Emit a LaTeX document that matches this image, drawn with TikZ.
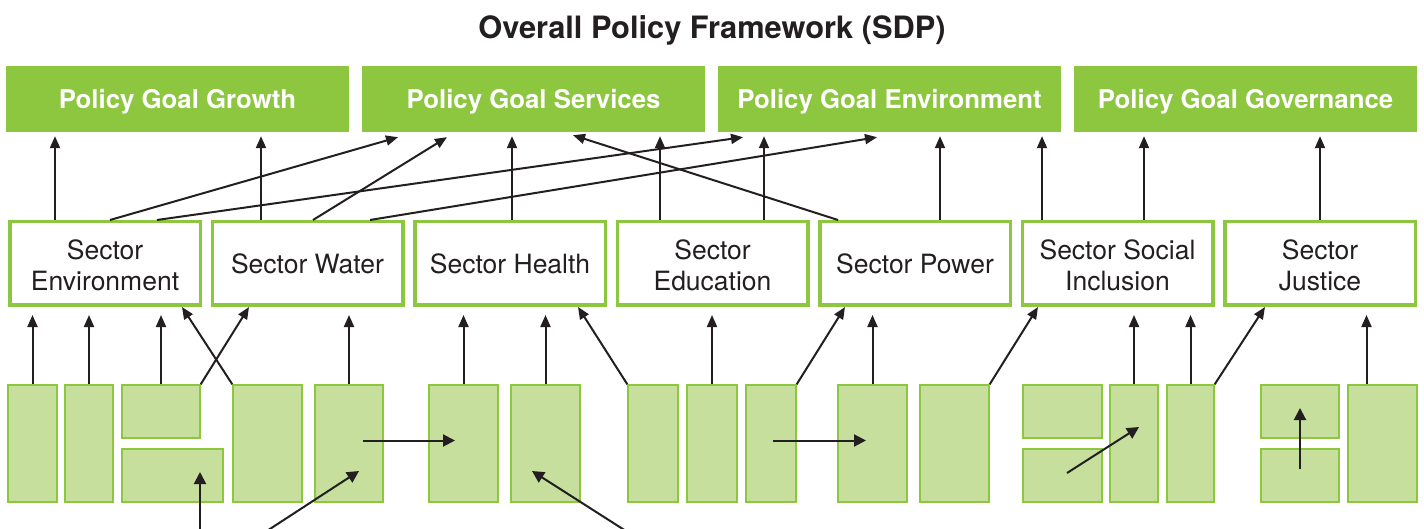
\documentclass[tikz,border=0pt]{standalone}
\usepackage{fontspec}
\setmainfont{TeX Gyre Heros}
\usepackage{tikz}
\usetikzlibrary{arrows.meta,calc,fit}

\definecolor{leaf}{HTML}{8DC63F}
\definecolor{pale}{HTML}{C6DF9D}
\definecolor{ink}{HTML}{231F20}

\tikzset{
  goal/.style={fill=leaf, minimum width=343pt, minimum height=66pt, inner sep=0pt,
    text depth=0pt, text=white, font=\bfseries\fontsize{25.8}{30}\selectfont},
  sector/.style={draw=leaf, line width=3.5pt, fill=white, minimum width=190.5pt,
    minimum height=83.5pt, inner sep=0pt, align=center, text=ink,
    font=\fontsize{26.5}{31}\selectfont},
  twoline/.style={sector, text height=54pt, text depth=0pt},
  tile/.style={draw=leaf, line width=1.4pt, fill=pale, inner sep=0pt},
  link/.style={draw=ink, line width=2pt, -{Triangle[length=12pt,width=10pt]}},
  flow/.style={link, -{Triangle[length=12pt,width=12pt]}}
}

\begin{document}
\begin{tikzpicture}[x=1pt, y=-1pt]
  \clip (0,0) rectangle (1424,529);

  \node[text=ink, text depth=0pt, font=\bfseries\fontsize{30.8}{36}\selectfont] (title) at (712,27) {Overall Policy Framework (SDP)};

  \node[goal] (gGrowth) at (177.5,99) {Policy Goal Growth};
  \node[goal] (gServ) at (533.5,99) {Policy Goal Services};
  \node[goal] (gEnv) at (889.5,99) {Policy Goal Environment};
  \node[goal] (gGov) at (1245.5,99) {Policy Goal Governance};

  \node[twoline] (sEnv) at (105,263.5) {Sector\\Environment};
  \node[sector] (sWater) at (307.5,263.5) {Sector Water};
  \node[sector] (sHealth) at (510,263.5) {Sector Health};
  \node[twoline] (sEdu) at (712.5,263.5) {Sector\\Education};
  \node[sector] (sPower) at (915,263.5) {Sector Power};
  \node[twoline] (sSoc) at (1117.5,263.5) {Sector Social\\Inclusion};
  \node[twoline] (sJus) at (1320,263.5) {Sector\\Justice};

  % programme tiles
  \foreach \n/\a/\b/\t/\u in {b1/8/57/385/502, b2/65/113/385/502, b3a/122/200/385/438,
      b3b/122/223/449/502, b4/233/302/385/502, b5/315/383/385/502, b6/429/498/385/502,
      b7/511/580/385/502, b8/628/678/385/502, b9/687/737/385/502, b10/746/796/385/502,
      b11/838/907/385/502, b12/920/989/385/502, b13a/1023/1102/385/438,
      b13b/1023/1102/449/502, b14/1110/1158/385/502, b15/1167/1214/385/502,
      b16a/1261/1339/385/438, b16b/1261/1339/449/502, b17/1348/1417/385/502}
    \node[tile, fit={(\a,\t) (\b,\u)}] (\n) {};

  % tiles to sectors
  \foreach \s/\g in {b1/sEnv, b2/sEnv, b3a/sEnv, b5/sWater, b6/sHealth, b7/sHealth,
      b9/sEdu, b11/sPower, b14/sSoc, b15/sSoc}
    \draw[link, shorten >=8pt] (\s.north) -- (\s.north |- \g.south);
  \draw[link, shorten >=8pt] ([xshift=-16]b17.north) -- ([xshift=-16]b17.north |- sJus.south);
  \draw[link] (b4.north west) -- ([xshift=77]sEnv.south);
  \draw[link] (b3a.north east) -- ([xshift=-58.5]sWater.south);
  \draw[link] (b8.north west) -- ([xshift=68]sHealth.south);
  \draw[link] (b10.north east) -- ([xshift=-70]sPower.south);
  \draw[link] (b12.north east) -- ([xshift=-79.5]sSoc.south);
  \draw[link] (b15.north east) -- ([xshift=-55]sJus.south);

  % sectors to goals
  \foreach \s/\d/\g in {sEnv/-50/gGrowth, sWater/-46.5/gGrowth, sHealth/2/gServ,
      sEdu/-52.5/gServ, sEdu/51.5/gEnv, sPower/25/gEnv, sSoc/-75.5/gEnv,
      sSoc/26.5/gGov, sJus/0/gGov}
    \draw[link, shorten >=4pt] ([xshift=\d]\s.north) -- ([xshift=\d]\s.north |- \g.south);
  \draw[link] ([xshift=5]sEnv.north) -- ($(gServ.south)+(-135.5,5)$);
  \draw[link] ([xshift=52]sEnv.north) -- ($(gEnv.south)+(-146.5,5)$);
  \draw[link] ([xshift=5.5]sWater.north) -- ($(gServ.south)+(-86.5,5)$);
  \draw[link] ([xshift=62.5]sWater.north) -- ($(gEnv.south)+(-12.5,5)$);
  \draw[link] ([xshift=-77]sPower.north) -- ($(gServ.south)+(39.5,3)$);

  % links between tiles
  \coordinate (src1) at (200,540);
  \coordinate (src2) at (253,540);
  \coordinate (src3) at (640,540);
  \draw[flow] ([xshift=14,yshift=3]b5.center) -- ([xshift=-8.5,yshift=3]b6.center);
  \draw[flow] (src1) -- ([xshift=27.5,yshift=3.5]b3b.center);
  \draw[flow] (src2) -- ([xshift=10,yshift=-27.5]b5.center);
  \draw[flow] (src3) -- ([xshift=-13.5,yshift=-27.5]b7.center);
  \draw[flow] ([xshift=2,yshift=3]b10.center) -- ([xshift=-6.5,yshift=3]b11.center);
  \draw[flow] ([xshift=4.5,yshift=2.5]b13b.center) -- ([xshift=5,yshift=16.5]b14.center);
  \draw[flow] ([yshift=6.5]b16b.center) -- ([yshift=3.5]b16a.center);
\end{tikzpicture}
\end{document}
